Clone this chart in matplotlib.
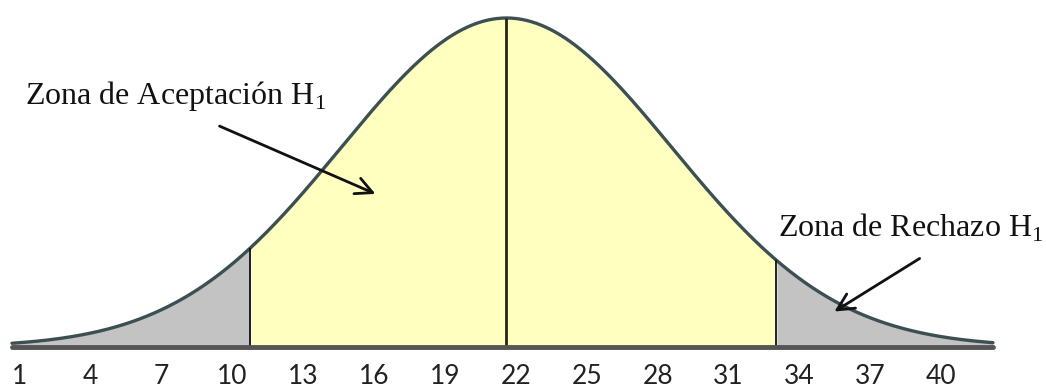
import numpy as np
import matplotlib.pyplot as plt

# distribution
mu = 21.6
sigma = 7.0
lower_crit = 10.75
upper_crit = 33.0
x_start, x_end = 0.66, 42.2
ticks = [1, 4, 7, 10, 13, 16, 19, 22, 25, 28, 31, 34, 37, 40]

label_accept = r"Zona de Aceptación H$_{\mathrm{1}}$"
label_reject = r"Zona de Rechazo H$_{\mathrm{1}}$"

plt.rcParams["mathtext.fontset"] = "custom"
plt.rcParams["mathtext.rm"] = "Liberation Serif"

x = np.linspace(x_start, x_end, 800)
y = np.exp(-0.5 * ((x - mu) / sigma) ** 2) / (sigma * np.sqrt(2 * np.pi))
peak = y.max()

fig = plt.figure(figsize=(10.46, 3.88), dpi=100)
ax = fig.add_axes([0, 41 / 388, 1, 347 / 388])
ax.set_xlim(1 - 20 / 23.615, 1 + 1026 / 23.615)
ax.set_ylim(0, peak * 347 / 329)

yellow = "#ffffc0"
gray = "#c3c3c3"
ax.fill_between(x, 0, y, where=(x >= lower_crit) & (x <= upper_crit), color=yellow, lw=0)
ax.fill_between(x, 0, y, where=x <= lower_crit, color=gray, lw=0)
ax.fill_between(x, 0, y, where=x >= upper_crit, color=gray, lw=0)

ax.plot(x, y, color="#3c5054", lw=2.4, solid_capstyle="round")

def pdf(v):
    return np.exp(-0.5 * ((v - mu) / sigma) ** 2) / (sigma * np.sqrt(2 * np.pi))

ax.vlines([lower_crit, upper_crit], 0, [pdf(lower_crit), pdf(upper_crit)], color="#111111", lw=1.3)
ax.vlines(mu, 0, peak, color="#2a2418", lw=2.0)
ax.hlines(0, x_start, x_end, color="#555555", lw=3.5, clip_on=False, capstyle="round")

for s in ax.spines.values():
    s.set_visible(False)
ax.set_yticks([])
ax.set_xticks(ticks)
ax.set_xticklabels([str(t) for t in ticks], family="Lato", fontsize=19, color="#222222")
ax.tick_params(axis="x", length=0, pad=12)

serif = dict(family="Liberation Serif", fontsize=23, color="#111111")
fig.text(25 / 1046, 1 - 104 / 388, label_accept, ha="left", va="baseline", **serif)
fig.text(1043 / 1046, 1 - 237 / 388, label_reject, ha="right", va="baseline", **serif)

arrow = dict(arrowstyle="->", lw=2.0, color="#111111", mutation_scale=30)
ax.annotate("", xy=(378 / 1046, 1 - 195 / 388), xytext=(217 / 1046, 1 - 125 / 388),
            xycoords="figure fraction", textcoords="figure fraction", arrowprops=arrow)
ax.annotate("", xy=(832 / 1046, 1 - 313 / 388), xytext=(922 / 1046, 1 - 257 / 388),
            xycoords="figure fraction", textcoords="figure fraction", arrowprops=arrow)

fig.savefig("out.png", dpi=100)
